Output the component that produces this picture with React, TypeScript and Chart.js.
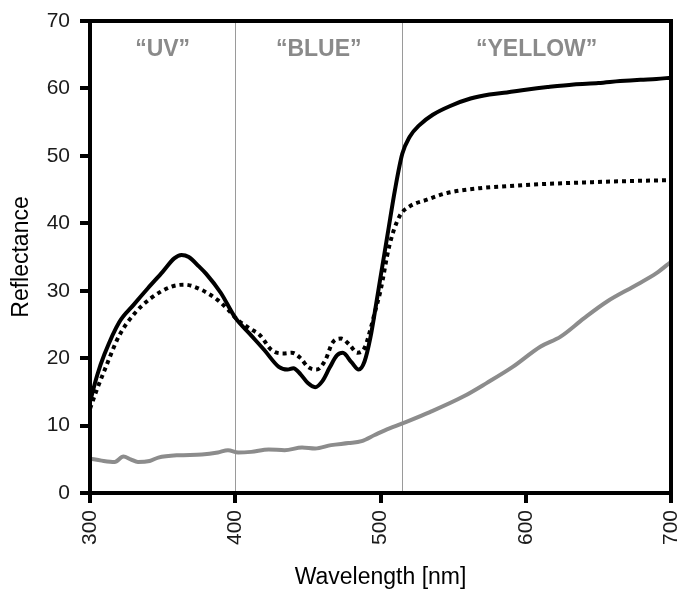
import React, { useEffect, useRef } from 'react';
import { Chart, registerables } from 'chart.js';

Chart.register(...registerables);

// ---- data ----
const solidWl = [300, 305, 310, 320, 330, 340, 350, 358, 363, 368, 375, 380, 390, 400, 410, 420, 430, 436, 440, 445, 450, 455, 460, 465, 470, 474, 480, 485, 489, 493, 497, 500, 505, 510, 515, 520, 527, 536, 548, 562, 575, 587, 600, 615, 633, 650, 665, 679, 690, 700];
const solidVal = [13.5, 17.5, 20.6, 25.3, 27.9, 30.4, 32.8, 34.8, 35.3, 35.0, 33.6, 32.5, 29.7, 26.0, 23.6, 21.2, 18.7, 18.3, 18.5, 17.6, 16.3, 15.7, 16.6, 18.6, 20.4, 20.8, 19.4, 18.3, 19.5, 23.0, 28.0, 32.0, 38.5, 45.0, 50.3, 52.8, 54.6, 56.1, 57.4, 58.5, 59.1, 59.4, 59.8, 60.2, 60.6, 60.8, 61.1, 61.3, 61.4, 61.6];

const dottedWl = [300, 305, 310, 320, 331, 342, 356, 365, 377, 388, 395, 402, 410, 417, 425, 433, 439, 445, 450, 456, 462, 467, 473, 479, 484, 489, 493, 496, 500, 506, 513, 520, 532, 546, 568, 587, 610, 633, 660, 700];
const dottedVal = [12.5, 15.5, 18.2, 23.3, 26.7, 28.9, 30.6, 30.9, 30.1, 28.6, 27.2, 25.6, 24.4, 23.4, 21.2, 20.7, 20.8, 20.0, 18.7, 18.3, 19.7, 22.3, 22.9, 21.9, 20.8, 21.5, 24.2, 26.7, 30.0, 36.6, 41.0, 42.5, 43.5, 44.5, 45.2, 45.5, 45.8, 46.0, 46.2, 46.4];

const greyWl = [300, 308, 317, 323, 328, 333, 341, 347, 361, 377, 388, 395, 402, 411, 423, 434, 446, 455, 466, 478, 487, 496, 503, 516, 534, 557, 573, 591, 610, 624, 640, 656, 674, 690, 700];
const greyVal = [5.1, 4.8, 4.6, 5.4, 5.0, 4.6, 4.75, 5.25, 5.6, 5.7, 6.0, 6.35, 6.0, 6.1, 6.45, 6.35, 6.75, 6.6, 7.1, 7.4, 7.7, 8.6, 9.3, 10.4, 12.0, 14.3, 16.3, 18.7, 21.7, 23.2, 25.9, 28.4, 30.6, 32.6, 34.3];

const xTicks = [300, 400, 500, 600, 700];
const yTicks = [0, 10, 20, 30, 40, 50, 60, 70];
const regionBounds = [300, 400, 515, 700];
const regionLabels = ['\u201CUV\u201D', '\u201CBLUE\u201D', '\u201CYELLOW\u201D'];

const FONT = '"Liberation Sans", Arial, sans-serif';
const W = 687;
const H = 596;

const toPts = (xs: number[], ys: number[]) => xs.map((x, i) => ({ x, y: ys[i] }));

const overlay = {
  id: 'overlay',
  beforeDatasetsDraw(chart: any) {
    const { ctx, chartArea, scales } = chart;
    const x = scales.x;
    ctx.save();
    ctx.strokeStyle = '#9a9a9a';
    ctx.lineWidth = 1;
    regionBounds.slice(1, -1).forEach((b) => {
      const px = Math.round(x.getPixelForValue(b)) + 0.5;
      ctx.beginPath();
      ctx.moveTo(px, chartArea.top);
      ctx.lineTo(px, chartArea.bottom);
      ctx.stroke();
    });
    ctx.font = 'bold 23px ' + FONT;
    ctx.fillStyle = '#8a8a8a';
    ctx.textAlign = 'center';
    ctx.textBaseline = 'middle';
    regionLabels.forEach((t, i) => {
      const cx = (x.getPixelForValue(regionBounds[i]) + x.getPixelForValue(regionBounds[i + 1])) / 2;
      ctx.fillText(t, cx, chartArea.top + 29);
    });
    ctx.restore();
  },
  afterDraw(chart: any) {
    const { ctx, chartArea } = chart;
    ctx.save();
    ctx.strokeStyle = '#000';
    ctx.lineWidth = 4;
    ctx.strokeRect(chartArea.left, chartArea.top, chartArea.right - chartArea.left, chartArea.bottom - chartArea.top);
    ctx.restore();
  },
};

export default function App() {
  const ref = useRef<HTMLCanvasElement>(null);
  useEffect(() => {
    if (!ref.current) return;
    const chart = new Chart(ref.current, {
      type: 'line',
      data: {
        datasets: [
          {
            label: 'solid',
            data: toPts(solidWl, solidVal),
            borderColor: '#000',
            borderWidth: 4,
            pointRadius: 0,
            cubicInterpolationMode: 'monotone',
            order: 0,
          },
          {
            label: 'dotted',
            data: toPts(dottedWl, dottedVal),
            borderColor: '#000',
            borderWidth: 4,
            borderDash: [4, 4],
            borderCapStyle: 'butt',
            pointRadius: 0,
            cubicInterpolationMode: 'monotone',
            order: 1,
          },
          {
            label: 'grey',
            data: toPts(greyWl, greyVal),
            borderColor: '#8c8c8c',
            borderWidth: 4,
            pointRadius: 0,
            cubicInterpolationMode: 'monotone',
            order: 2,
          },
        ],
      } as any,
      options: {
        animation: false,
        responsive: false,
        maintainAspectRatio: false,
        devicePixelRatio: 1,
        layout: { padding: { top: 21, right: 16, left: 0, bottom: 0 } },
        plugins: { legend: { display: false }, tooltip: { enabled: false } },
        scales: {
          x: {
            type: 'linear',
            min: 300,
            max: 700,
            afterBuildTicks: (s: any) => {
              s.ticks = xTicks.map((v) => ({ value: v }));
            },
            afterFit: (s: any) => {
              s.height = 103;
              s.paddingLeft = 0;
              s.paddingRight = 0;
            },
            border: { display: false },
            grid: { drawOnChartArea: false, drawTicks: true, tickLength: 10, lineWidth: 4, color: '#000' },
            ticks: {
              autoSkip: false,
              maxRotation: 90,
              minRotation: 90,
              padding: 7,
              color: '#1a1a1a',
              font: { family: FONT, size: 21 },
            },
            title: {
              display: true,
              text: 'Wavelength [nm]',
              color: '#000',
              font: { family: FONT, size: 23 },
              padding: { top: 0, bottom: 5 },
            },
          },
          y: {
            type: 'linear',
            min: 0,
            max: 70,
            afterBuildTicks: (s: any) => {
              s.ticks = yTicks.map((v) => ({ value: v }));
            },
            afterFit: (s: any) => {
              s.width = 90;
              s.paddingTop = 0;
              s.paddingBottom = 0;
            },
            border: { display: false },
            grid: { drawOnChartArea: false, drawTicks: true, tickLength: 10, lineWidth: 4, color: '#000' },
            ticks: {
              padding: 10,
              color: '#1a1a1a',
              font: { family: FONT, size: 21 },
            },
            title: {
              display: true,
              text: 'Reflectance',
              color: '#000',
              font: { family: FONT, size: 23 },
              padding: { top: 8, bottom: 0 },
            },
          },
        },
      } as any,
      plugins: [overlay],
    });
    return () => chart.destroy();
  }, []);
  return (
    <div style={{ position: 'fixed', left: 0, top: 0, width: W, height: H, background: '#fff' }}>
      <canvas ref={ref} width={W} height={H} style={{ display: 'block', width: W, height: H }} />
    </div>
  );
}
